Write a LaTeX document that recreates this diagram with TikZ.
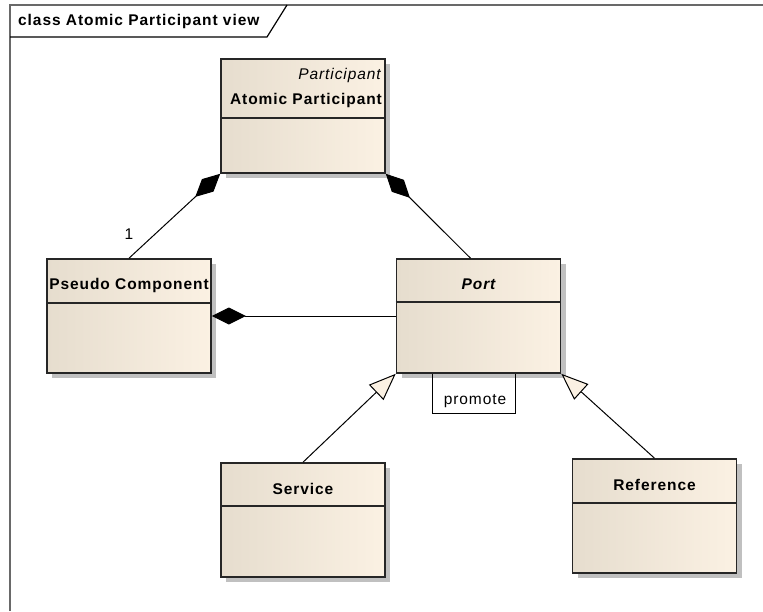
\documentclass[tikz,border=0pt]{standalone}
\usepackage{fontspec}
\setmainfont[LetterSpace=6]{Liberation Sans}
\usetikzlibrary{arrows.meta,shadows,positioning}

\definecolor{clsleft}{RGB}{230,221,206}
\definecolor{clsright}{RGB}{251,241,227}
\definecolor{shadowgray}{RGB}{192,192,192}
\definecolor{framegray}{RGB}{105,105,105}

\tikzset{
  cls/.style={draw=black!85, line width=1.6pt, left color=clsleft, right color=clsright,
    minimum width=164pt, minimum height=114pt, inner sep=0pt,
    drop shadow={shadow xshift=5pt, shadow yshift=-5pt, fill=shadowgray, opacity=1}},
  clsname/.style={font=\fontsize{15.5}{18}\selectfont\bfseries, inner sep=0pt},
  stereo/.style={font=\fontsize{15.5}{18}\selectfont\itshape, inner sep=0pt},
  plain/.style={font=\fontsize{15.5}{18}\selectfont, inner sep=0pt},
  compose/.style={{Diamond[length=34pt,width=17pt]}-, line width=1pt},
  inherit/.style={-{Triangle[length=27pt,width=21pt,fill=clsright]}, line width=1pt},
  divider/.style={draw=black!85, line width=1.6pt}
}

\begin{document}
\begin{tikzpicture}[x=1pt,y=-1pt]
  \useasboundingbox (0,0) rectangle (763,611);

  % frame
  \draw[framegray, line width=2pt] (10,611) -- (10,5) -- (763,5);
  \draw[line width=1.2pt] (10,37) -- (267,37) -- (287,5);
  \node[clsname, anchor=west] (heading) at (18,21) {class Atomic Participant view};

  % classes
  \node[cls] (atomic) at (303,116) {};
  \node[cls] (pseudo) at (129,316) {};
  \node[cls] (port) at (478.5,316) {};
  \node[cls] (service) at (303,520) {};
  \node[cls] (reference) at (654.5,516) {};

  \draw[divider] ([yshift=-60pt]atomic.north west) -- ([yshift=-60pt]atomic.north east);
  \draw[divider] ([yshift=-45pt]pseudo.north west) -- ([yshift=-45pt]pseudo.north east);
  \draw[divider] ([yshift=-44pt]port.north west) -- ([yshift=-44pt]port.north east);
  \draw[divider] ([yshift=-44pt]service.north west) -- ([yshift=-44pt]service.north east);
  \draw[divider] ([yshift=-45pt]reference.north west) -- ([yshift=-45pt]reference.north east);

  \node[stereo, anchor=east] (atomicst) at (381,75) {Participant};
  \node[clsname] (atomicname) at (306,100) {Atomic Participant};
  \node[clsname] (pseudoname) at (129,285) {Pseudo Component};
  \node[clsname, font=\fontsize{15.5}{18}\selectfont\bfseries\itshape] (portname) at (478.5,284) {Port};
  \node[clsname] (servicename) at (303,489) {Service};
  \node[clsname] (referencename) at (654.5,485) {Reference};

  % associations
  \draw[compose] (atomic.south west) -- (pseudo.north);
  \draw[compose] (atomic.south east) -- ([xshift=-8pt]port.north);
  \draw[compose] (pseudo.east) -- (port.west);
  \node[plain] (mult) at (129,234) {1};

  \draw[inherit] (service.north) -- (port.south west);
  \draw[inherit] (reference.north) -- (port.south east);

  % promote
  \coordinate (promA) at ([xshift=37pt]port.south west);
  \coordinate (promB) at ([xshift=120pt]port.south west);
  \draw[line width=1pt] (promA) -- ++(0,40) -| (promB);
  \node[plain] (promote) at (475,401) {promote};
\end{tikzpicture}
\end{document}
